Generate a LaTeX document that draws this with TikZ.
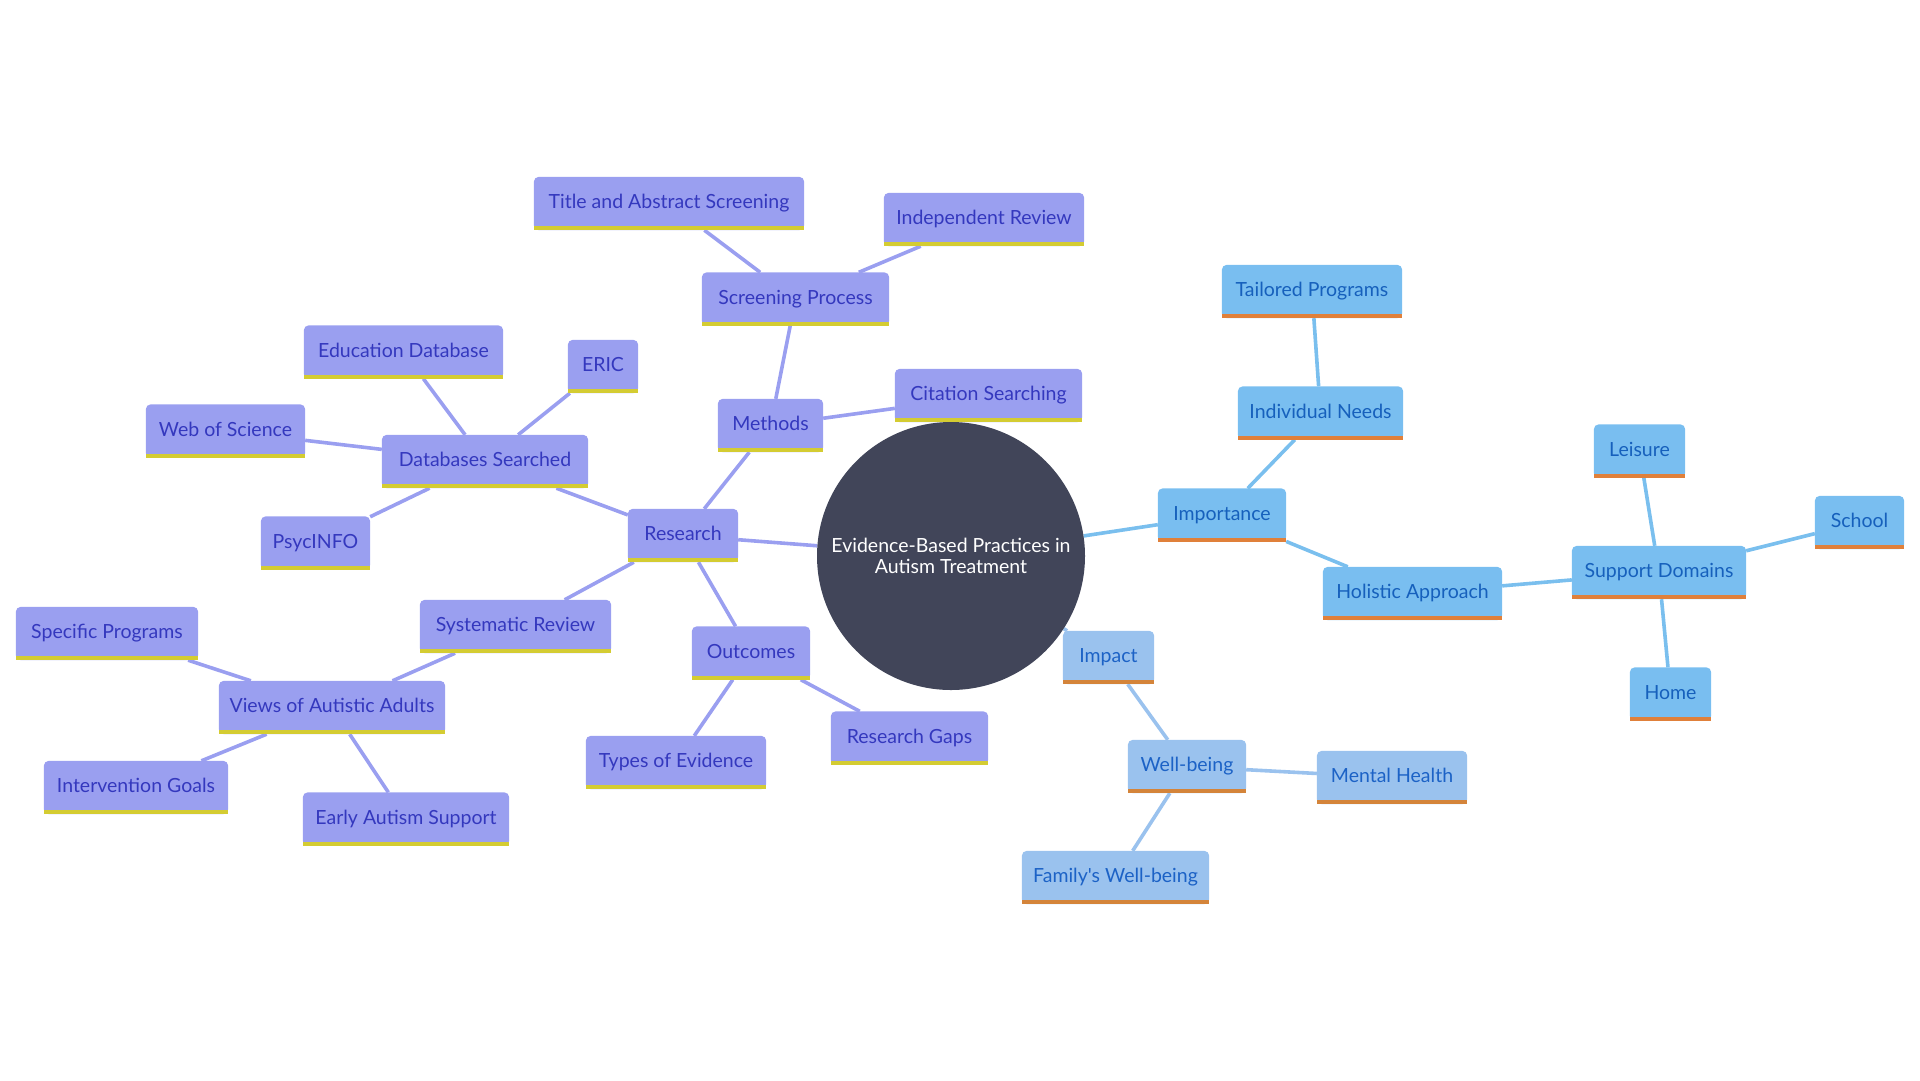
\documentclass[tikz,border=0pt]{standalone}
\usepackage{fontspec}
\newfontfamily\mmfont{Lato}
\definecolor{pfill}{HTML}{9A9FF0}
\definecolor{pbar}{HTML}{D4CC32}
\definecolor{ptext}{HTML}{3438BE}
\definecolor{pedge}{HTML}{9A9FF0}
\definecolor{bfill}{HTML}{79BEF0}
\definecolor{bbar}{HTML}{E0803A}
\definecolor{btext}{HTML}{1660BC}
\definecolor{bedge}{HTML}{7ABFEE}
\definecolor{cfill}{HTML}{9AC2EE}
\definecolor{cbar}{HTML}{D4843A}
\definecolor{ctext}{HTML}{1C62C6}
\definecolor{cedge}{HTML}{9AC2EE}
\definecolor{hub}{HTML}{414559}
\pgfdeclarelayer{edges}
\pgfdeclarelayer{boxbg}
\pgfsetlayers{edges,boxbg,main}
\tikzset{
  mm/.style={inner sep=0pt, minimum height=53pt, text height=14pt, text depth=4pt,
    font=\mmfont\fontsize{19.5}{22}\selectfont},
  pn/.style={mm, text=ptext},
  bn/.style={mm, text=btext},
  cn/.style={mm, text=ctext},
  pe/.style={draw=pedge, line width=3.6pt},
  be/.style={draw=bedge, line width=3.6pt},
  ce/.style={draw=cedge, line width=3.6pt},
  hubnode/.style={circle, fill=hub, minimum size=268pt, inner sep=0pt, text=white,
    align=center, font=\mmfont\fontsize{19.5}{20.5}\selectfont}
}
\begin{document}
\begin{tikzpicture}[x=1pt,y=-1pt]
\useasboundingbox (0,0) rectangle (1920,1080);
\node[hubnode] (hub) at (951,556) {Evidence-Based Practices in\\Autism Treatment};
% research branch
\node[pn, minimum width=270] (tas) at (669,203.5) {Title and Abstract Screening};
\node[pn, minimum width=200] (ir) at (984,219.5) {Independent Review};
\node[pn, minimum width=187] (sp) at (795.5,299) {Screening Process};
\node[pn, minimum width=70] (eric) at (603,366.5) {ERIC};
\node[pn, minimum width=187] (cs) at (988.5,395.5) {Citation Searching};
\node[pn, minimum width=105] (met) at (770.5,425.5) {Methods};
\node[pn, minimum width=199] (ed) at (403.5,352) {Education Database};
\node[pn, minimum width=159] (wos) at (225.5,431) {Web of Science};
\node[pn, minimum width=206] (ds) at (485,461.5) {Databases Searched};
\node[pn, minimum width=109] (psy) at (315.5,543) {PsycINFO};
\node[pn, minimum width=110] (res) at (683,535.5) {Research};
\node[pn, minimum width=191] (sr) at (515.5,626.5) {Systematic Review};
\node[pn, minimum width=182] (spr) at (107,633.5) {Specific Programs};
\node[pn, minimum width=226] (vaa) at (332,707.5) {Views of Autistic Adults};
\node[pn, minimum width=184] (ig) at (136,787.5) {Intervention Goals};
\node[pn, minimum width=206] (eas) at (406,819) {Early Autism Support};
\node[pn, minimum width=118] (out) at (751,653) {Outcomes};
\node[pn, minimum width=180] (toe) at (676,762.5) {Types of Evidence};
\node[pn, minimum width=157] (rg) at (909.5,738) {Research Gaps};
% importance branch
\node[bn, minimum width=180] (tp) at (1312,291.5) {Tailored Programs};
\node[bn, minimum width=165] (in) at (1320.5,413) {Individual Needs};
\node[bn, minimum width=128] (imp) at (1222,515) {Importance};
\node[bn, minimum width=179] (ha) at (1412.5,593.5) {Holistic Approach};
\node[bn, minimum width=174] (sd) at (1659,572.5) {Support Domains};
\node[bn, minimum width=91] (lei) at (1639.5,451) {Leisure};
\node[bn, minimum width=89] (sch) at (1859.5,522.5) {School};
\node[bn, minimum width=81] (home) at (1670.5,694) {Home};
% impact branch
\node[cn, minimum width=91] (ipc) at (1108.5,657.5) {Impact};
\node[cn, minimum width=118] (wb) at (1187,766.5) {Well-being};
\node[cn, minimum width=150] (mh) at (1392,777.5) {Mental Health};
\node[cn, minimum width=187] (fwb) at (1115.5,877.5) {Family's Well-being};
% box backgrounds
\begin{pgfonlayer}{boxbg}
\foreach \n/\kind in {tas/p,ir/p,sp/p,eric/p,cs/p,met/p,ed/p,wos/p,ds/p,psy/p,res/p,sr/p,spr/p,vaa/p,ig/p,eas/p,out/p,toe/p,rg/p,
  tp/b,in/b,imp/b,ha/b,sd/b,lei/b,sch/b,home/b,ipc/c,wb/c,mh/c,fwb/c}{
  \fill[fill=\kind fill, rounded corners=5pt] (\n.south west) rectangle (\n.north east);
  \fill[fill=\kind fill] (\n.west) rectangle (\n.south east);
  \fill[fill=\kind bar] (\n.south west) rectangle ([yshift=4pt]\n.south east);
}
\end{pgfonlayer}
% connectors
\begin{pgfonlayer}{edges}
\draw[pe] (hub) -- (res);
\draw[pe] (res) -- (met);
\draw[pe] (met) -- (sp);
\draw[pe] (sp) -- (tas);
\draw[pe] (sp) -- (ir);
\draw[pe] (met) -- (cs);
\draw[pe] (res) -- (ds);
\draw[pe] (ds) -- (ed);
\draw[pe] (ds) -- (eric);
\draw[pe] (ds) -- (wos);
\draw[pe] (ds) -- (psy);
\draw[pe] (res) -- (sr);
\draw[pe] (sr) -- (vaa);
\draw[pe] (vaa) -- (spr);
\draw[pe] (vaa) -- (ig);
\draw[pe] (vaa) -- (eas);
\draw[pe] (res) -- (out);
\draw[pe] (out) -- (toe);
\draw[pe] (out) -- (rg);
\draw[be] (hub) -- (imp);
\draw[be] (imp) -- (in);
\draw[be] (in) -- (tp);
\draw[be] (imp) -- (ha);
\draw[be] (ha) -- (sd);
\draw[be] (sd) -- (lei);
\draw[be] (sd) -- (sch);
\draw[be] (sd) -- (home);
\draw[ce] (hub) -- (ipc);
\draw[ce] (ipc) -- (wb);
\draw[ce] (wb) -- (mh);
\draw[ce] (wb) -- (fwb);
\end{pgfonlayer}
\end{tikzpicture}
\end{document}
